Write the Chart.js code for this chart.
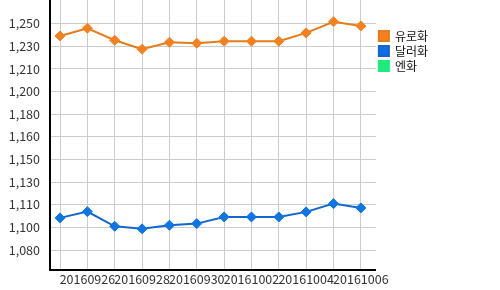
<!DOCTYPE html>
<html>
<head>
<meta charset="utf-8">
<script src="https://cdn.jsdelivr.net/npm/chart.js@4"></script>
<style>
  html, body { margin: 0; padding: 0; background: #fff; }
  #wrap { width: 500px; height: 290px; }
</style>
</head>
<body>
<div id="wrap"><canvas id="rateChart"></canvas></div>
<script>
/* ---- data ---- */
const dates      = ['20160925','20160926','20160927','20160928','20160929','20160930',
                    '20161001','20161002','20161003','20161004','20161005','20161006'];
const euroRates  = [1240.6, 1246.4, 1237.4, 1230.7, 1235.9, 1235.2, 1236.7, 1236.7, 1236.7, 1242.9, 1251.3, 1248.1];
const usdRates   = [1104.1, 1108.8, 1097.8, 1095.9, 1098.6, 1099.8, 1104.8, 1104.8, 1104.8, 1108.6, 1114.8, 1111.6];
const yenRates   = [];   // no values shown
const yTickVals  = [1080, 1097, 1114, 1131, 1148, 1165, 1182, 1199, 1216, 1233, 1250];
const yTickLbls  = ['1,080','1,100','1,110','1,130','1,150','1,160','1,180','1,200','1,210','1,230','1,250'];

const FONT = '"Noto Sans CJK KR", "Liberation Sans", sans-serif';
const toXY = arr => arr.map((v, i) => ({ x: i, y: v }));

new Chart(document.getElementById('rateChart'), {
  type: 'line',
  data: {
    datasets: [
      { label: '유로화', data: toXY(euroRates),
        borderColor: '#e47c1c', backgroundColor: '#f7801e',
        pointBackgroundColor: '#f7801e', pointBorderColor: '#f7801e',
        borderWidth: 2, pointStyle: 'rectRot', pointRadius: 5, pointBorderWidth: 1 },
      { label: '달러화', data: toXY(usdRates),
        borderColor: '#1466cc', backgroundColor: '#0d6ee8',
        pointBackgroundColor: '#0d75e6', pointBorderColor: '#0d75e6',
        borderWidth: 2, pointStyle: 'rectRot', pointRadius: 5, pointBorderWidth: 1 },
      { label: '엔화', data: toXY(yenRates),
        borderColor: '#1deb7b', backgroundColor: '#1deb7b',
        borderWidth: 2, pointStyle: 'rectRot', pointRadius: 5 }
    ]
  },
  options: {
    responsive: true,
    maintainAspectRatio: false,
    animation: false,
    layout: { autoPadding: false, padding: { left: 0, top: 0, bottom: 0, right: 62 } },
    scales: {
      x: {
        type: 'linear',
        min: -0.367, max: 11.55,
        grid: { color: '#cccccc', drawTicks: false },
        border: { color: '#000', width: 2 },
        afterBuildTicks: s => { s.ticks = dates.map((d, i) => ({ value: i })); },
        afterFit: s => { s.height = 20; s.paddingLeft = 0; s.paddingRight = 0; },
        ticks: {
          autoSkip: false, maxRotation: 0, minRotation: 0, padding: 2,
          color: '#333', font: { family: FONT, size: 12.5 },
          callback: (v, i) => (i % 2 === 1 ? dates[i] : '')
        }
      },
      y: {
        min: 1065, max: 1267.6,
        grid: { color: '#cccccc', drawTicks: false },
        border: { color: '#000', width: 2 },
        afterBuildTicks: s => { s.ticks = yTickVals.map(v => ({ value: v })); },
        afterFit: s => { s.width = 50; s.paddingTop = 0; s.paddingBottom = 0; },
        ticks: {
          padding: 10, color: '#333', font: { family: FONT, size: 12.5 },
          callback: (v, i) => yTickLbls[i]
        }
      }
    },
    plugins: {
      tooltip: { enabled: false },
      legend: {
        position: 'right', align: 'start',
        title: { display: true, text: '', padding: { top: 12.6, bottom: 0 }, font: { size: 12 } },
        labels: { boxWidth: 10, boxHeight: 10, padding: 3, color: '#111',
                  font: { family: FONT, size: 12 } }
      }
    }
  }
});
</script>
</body>
</html>
